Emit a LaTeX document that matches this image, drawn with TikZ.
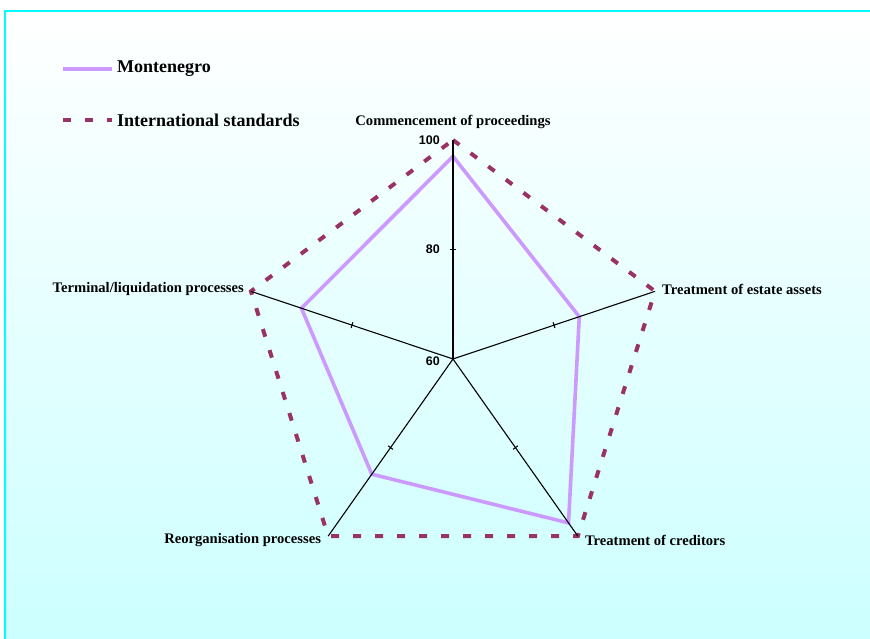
\documentclass[tikz,border=0pt]{standalone}
\usepackage{fontspec}
\setmainfont{Liberation Serif}
\newfontfamily\arialfont{Liberation Sans}
\usetikzlibrary{positioning}
\definecolor{mnline}{HTML}{CC99FF}
\definecolor{stdline}{HTML}{993366}
\definecolor{framecyan}{HTML}{00FFFF}
\tikzset{
  mnpoly/.style={mnline, line width=3.6pt, line join=miter},
  stdpoly/.style={stdline, line width=4pt, dash pattern=on 8pt off 14pt},
  axisline/.style={black, line width=1.1pt},
  catlabel/.style={font=\bfseries\fontsize{14.6}{16}\selectfont, inner sep=2pt},
  ticklabel/.style={font=\arialfont\bfseries\fontsize{12.5}{14}\selectfont, inner sep=0pt},
  legendtext/.style={font=\bfseries\fontsize{18}{20}\selectfont, inner sep=2pt, anchor=west},
}

\begin{document}
\begin{tikzpicture}[x=1pt, y=1pt]
    \useasboundingbox (0,0) rectangle (870,639);
    % background and frame
    \shade[top color=white, bottom color=cyan!20] (5,0) rectangle (870,628);
    \draw[framecyan, line width=2.5pt] (5,0) -- (5,628) -- (870,628);

    % legend
    \node[legendtext] (legmn) at (115,570) {Montenegro};
    \coordinate[left=52pt of legmn.west] (legmnkey);
    \draw[mnpoly] (legmnkey) -- ([xshift=-3pt]legmn.west);
    \node[legendtext] (legstd) at (115,519) {International standards};
    \coordinate[left=52pt of legstd.west] (legstdkey);
    \draw[stdpoly] (legstdkey) -- ([xshift=-3pt]legstd.west);

    % radar
    \begin{scope}[shift={(453,280)}, xscale=0.97]
        \coordinate (c) at (0,0);
        \foreach \name/\ang in {comm/90, est/18, cred/-54, reorg/-126, term/162} {
            \coordinate (\name) at (\ang:219);
            \coordinate (\name80) at (\ang:109.5);
        }
        % Montenegro values: 97, 85, 97, 86, 90
        \coordinate (mcomm) at (90:202.6);
        \coordinate (mest) at (18:136.9);
        \coordinate (mcred) at (-54:202.6);
        \coordinate (mreorg) at (-126:142.4);
        \coordinate (mterm) at (162:164.3);
        \draw[stdpoly] (comm) -- (est) -- (cred) -- (reorg) -- (term) -- cycle;
        \draw[mnpoly] (mcomm) -- (mest) -- (mcred) -- (mreorg) -- (mterm) -- cycle;
        \foreach \name/\ang in {comm/90, est/18, cred/-54, reorg/-126, term/162} {
            \draw[axisline] (c) -- (\name);
            \draw[axisline, shift={(\ang:109.5)}, rotate=\ang] (0,-3) -- (0,3);
        }
    \end{scope}

    % axis labels
    \node[catlabel, above=9pt of comm] {Commencement of proceedings};
    \node[catlabel, right=5pt of est, yshift=2pt] {Treatment of estate assets};
    \node[catlabel, right=5pt of cred, yshift=-4pt] {Treatment of creditors};
    \node[catlabel, left=5pt of reorg, yshift=-4pt] {Reorganisation processes};
    \node[catlabel, left=5pt of term, yshift=2pt] {Terminal/liquidation processes};

    % scale labels
    \node[ticklabel, left=13pt of comm] {100};
    \node[ticklabel, left=13pt of comm80] {80};
    \node[ticklabel, left=13pt of c, yshift=-2pt] {60};
\end{tikzpicture}
\end{document}
